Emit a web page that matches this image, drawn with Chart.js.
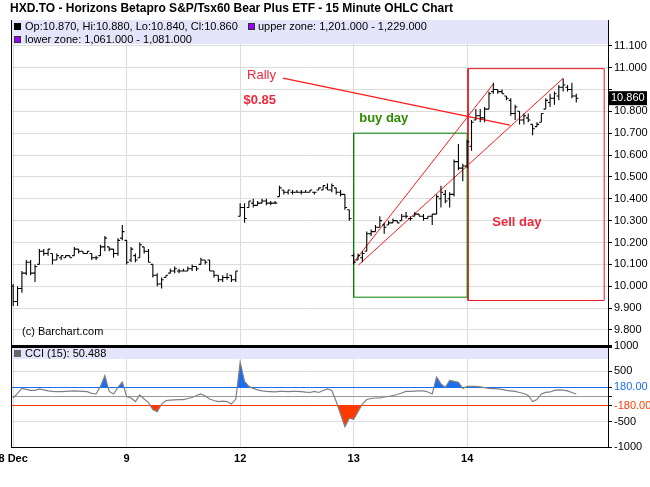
<!DOCTYPE html>
<html>
<head>
<meta charset="utf-8">
<script src="https://cdn.jsdelivr.net/npm/chart.js@4.4.1/dist/chart.umd.min.js"></script>
<style>
html, body { margin: 0; padding: 0; background: #fff; }
</style>
</head>
<body>
<canvas id="ohlc" width="650" height="487"></canvas>
<script>
// trading days on the x axis, 26 fifteen-minute bars each
var dayLabels = ['8 Dec', '9', '12', '13', '14'];
var barsPerDay = 26;

var op = [10.00,9.93,9.99,10.06,10.11,10.06,10.10,10.16,10.15,10.15,10.12,10.13,10.13,10.14,10.14,10.17,10.16,10.15,10.15,10.13,10.14,10.18,10.18,10.17,10.15,10.22,
    10.21,10.12,10.14,10.13,10.18,10.16,10.10,10.05,10.01,10.04,10.06,10.07,10.07,10.07,10.07,10.08,10.09,10.10,10.12,10.12,10.07,10.05,10.03,10.04,10.05,10.03,
    10.32,10.36,10.36,10.38,10.37,10.38,10.39,10.38,10.38,10.41,10.44,10.43,10.43,10.43,10.43,10.43,10.43,10.43,10.44,10.44,10.45,10.44,10.45,10.43,10.42,10.35,
    10.14,10.12,10.13,10.16,10.24,10.25,10.27,10.28,10.28,10.29,10.30,10.30,10.32,10.31,10.32,10.33,10.32,10.31,10.32,10.33,10.40,10.42,10.40,10.42,10.57,10.54,
    10.55,10.64,10.76,10.78,10.77,10.81,10.89,10.90,10.89,10.87,10.85,10.79,10.80,10.76,10.77,10.74,10.73,10.75,10.81,10.84,10.86,10.87,10.91,10.91,10.90,10.87];
var hi = [10.01,10.00,10.07,10.12,10.12,10.10,10.17,10.17,10.17,10.15,10.15,10.14,10.14,10.14,10.18,10.17,10.16,10.16,10.15,10.14,10.19,10.23,10.18,10.17,10.22,10.28,
    10.21,10.18,10.15,10.20,10.18,10.17,10.10,10.06,10.04,10.05,10.08,10.09,10.08,10.08,10.09,10.10,10.09,10.13,10.12,10.12,10.07,10.05,10.05,10.06,10.05,10.07,
    10.38,10.38,10.39,10.40,10.39,10.40,10.40,10.39,10.39,10.46,10.44,10.44,10.44,10.44,10.44,10.44,10.44,10.43,10.45,10.46,10.47,10.47,10.45,10.44,10.42,10.35,
    10.15,10.15,10.16,10.25,10.26,10.28,10.32,10.29,10.30,10.31,10.30,10.33,10.34,10.32,10.34,10.33,10.33,10.32,10.33,10.42,10.46,10.44,10.43,10.58,10.65,10.56,
    10.67,10.76,10.81,10.81,10.82,10.89,10.93,10.90,10.90,10.87,10.86,10.83,10.80,10.79,10.79,10.74,10.75,10.79,10.86,10.88,10.89,10.92,10.95,10.92,10.93,10.88];
var lo = [9.91,9.91,9.97,10.05,10.05,10.02,10.10,10.14,10.14,10.10,10.12,10.12,10.13,10.13,10.14,10.15,10.15,10.15,10.12,10.12,10.14,10.16,10.16,10.13,10.14,10.21,
    10.10,10.11,10.11,10.13,10.15,10.11,10.04,10.00,9.99,10.04,10.06,10.06,10.06,10.07,10.07,10.07,10.07,10.10,10.10,10.07,10.04,10.02,10.02,10.03,10.02,10.02,
    10.32,10.29,10.36,10.36,10.37,10.38,10.37,10.37,10.38,10.41,10.42,10.42,10.42,10.43,10.42,10.43,10.43,10.42,10.44,10.44,10.44,10.43,10.42,10.41,10.35,10.30,
    10.10,10.12,10.11,10.16,10.23,10.25,10.27,10.24,10.28,10.29,10.29,10.30,10.31,10.30,10.32,10.32,10.30,10.31,10.28,10.33,10.36,10.38,10.36,10.41,10.53,10.48,
    10.54,10.62,10.76,10.75,10.75,10.81,10.88,10.88,10.88,10.85,10.78,10.76,10.74,10.74,10.75,10.69,10.73,10.75,10.81,10.82,10.83,10.85,10.89,10.89,10.86,10.84];
var cl = [9.93,9.99,10.06,10.11,10.06,10.09,10.16,10.15,10.17,10.12,10.14,10.14,10.14,10.13,10.17,10.16,10.15,10.16,10.13,10.13,10.18,10.22,10.17,10.15,10.21,10.25,
    10.11,10.17,10.12,10.19,10.16,10.11,10.05,10.01,10.03,10.05,10.07,10.08,10.07,10.07,10.08,10.09,10.08,10.12,10.11,10.07,10.05,10.03,10.04,10.04,10.03,10.07,
    10.36,10.31,10.39,10.37,10.38,10.39,10.38,10.38,10.38,10.45,10.43,10.44,10.43,10.43,10.43,10.43,10.44,10.43,10.45,10.46,10.44,10.46,10.43,10.42,10.36,10.31,
    10.11,10.14,10.15,10.24,10.25,10.27,10.30,10.27,10.29,10.30,10.29,10.32,10.32,10.31,10.33,10.32,10.31,10.32,10.33,10.41,10.43,10.39,10.42,10.57,10.54,10.55,
    10.66,10.75,10.78,10.77,10.81,10.88,10.90,10.89,10.88,10.86,10.79,10.82,10.76,10.78,10.76,10.72,10.74,10.79,10.85,10.86,10.88,10.91,10.92,10.90,10.87,10.86];

var cci = [-30,60,160,140,120,120,150,130,110,100,95,95,100,105,110,105,100,95,60,50,200,413,100,50,180,287,
    0,-30,-100,30,-50,-120,-260,-300,-150,-80,-70,-65,-60,-60,-40,-20,20,50,10,-50,-80,-100,-90,-100,-150,-50,
    680,300,200,160,130,110,100,95,90,100,100,95,100,100,95,85,80,100,80,120,150,120,-100,-350,-600,-430,
    -450,-300,-150,-60,-40,-30,-30,-10,0,20,40,70,100,100,105,110,110,90,50,387,250,180,320,300,280,160,
    200,200,200,190,175,160,155,150,140,120,110,100,80,60,20,-100,-60,50,80,90,120,130,125,110,80,50.488];

var priceTicks = [9.8, 9.9, 10.0, 10.1, 10.2, 10.3, 10.4, 10.5, 10.6, 10.7, 10.8, 10.9, 11.0, 11.1];
var cciTicks = [-1000, -500, -180, 0, 180, 500, 1000];
var cciTickLabels = ['-1000', '-500', '-180.00', '', '180.00', '500', '1000'];
var cciZones = [180, -180];

// hand drawn study marks, in bar index / price units
var buyBoxX = [78, 104], buyBoxY = [9.95, 10.70];
var sellBoxX = [104.2, 135.4], sellBoxY = [9.935, 10.995];
var channelA = [[77.85, 10.105], [110.0, 10.925]];
var channelB = [[79.1, 10.097], [126.0, 10.951]];
var rallyLine = [[61.8, 10.952], [113.8, 10.737]];
var noteText = ['Rally', '$0.85', 'buy day', 'Sell day'];
var noteX = [56.9, 56.5, 84.9, 115.4];
var noteY = [10.966, 10.852, 10.769, 10.293];

var FONT = "'Liberation Sans', Arial, sans-serif";
var BAND = 'rgb(228,228,250)';
var GRID = '#dcdcdc';
var BLUE = '#1a6ef0';
var RED = '#ff3a00';
var tickLen = 0.5;
var last = cl.length - 1;

function ohlcPoints() {
    var pts = [];
    for (var i = 0; i < hi.length; i++) {
        pts.push({x: i, y: lo[i]}, {x: i, y: hi[i]}, {x: i, y: null});
        pts.push({x: i - tickLen, y: op[i]}, {x: i, y: op[i]}, {x: i, y: null});
        pts.push({x: i, y: cl[i]}, {x: i + tickLen, y: cl[i]}, {x: i, y: null});
    }
    return pts;
}

function boxPoints(bx, by) {
    return [{x: bx[0], y: by[0]}, {x: bx[1], y: by[0]}, {x: bx[1], y: by[1]}, {x: bx[0], y: by[1]}, {x: bx[0], y: by[0]}];
}

function segPoints(s) {
    return [{x: s[0][0], y: s[0][1]}, {x: s[1][0], y: s[1][1]}];
}

function markLine(pts, color, width) {
    return {data: pts, yAxisID: 'y', borderColor: color, borderWidth: width, pointRadius: 0, fill: false, tension: 0};
}

var cciPts = cci.map(function(v, i) { return {x: i, y: v}; });

var decor = {
    id: 'decor',
    beforeDatasetsDraw: function(chart) {
        var c = chart.ctx, a = chart.chartArea, y = chart.scales.y, yc = chart.scales.yc;
        c.save();
        c.fillStyle = BAND;
        c.fillRect(a.left, y.top, a.right - a.left, 24);
        c.fillRect(a.left, yc.top + 2, a.right - a.left, 11);
        c.restore();
    },
    afterDraw: function(chart) {
        var c = chart.ctx, a = chart.chartArea, x = chart.scales.x, y = chart.scales.y, yc = chart.scales.yc;
        c.save();
        c.strokeStyle = '#000';
        c.lineWidth = 1;
        c.beginPath();
        c.moveTo(a.left + 0.5, a.top);
        c.lineTo(a.left + 0.5, a.bottom);
        c.stroke();

        c.textBaseline = 'middle';
        c.fillStyle = '#000';
        c.font = 'bold 12px ' + FONT;
        c.fillText('HXD.TO - Horizons Betapro S&P/Tsx60 Bear Plus ETF - 15 Minute OHLC Chart', 10, 9);

        c.font = '11px ' + FONT;
        c.fillStyle = '#000';
        c.fillRect(14, 23, 7, 7);
        c.fillText('Op:' + op[last].toFixed(3) + ', Hi:' + hi[last].toFixed(3) + ', Lo:' + lo[last].toFixed(3) + ', Cl:' + cl[last].toFixed(3), 25, 27);
        c.fillStyle = '#9a00ff';
        c.fillRect(248, 23, 7, 7);
        c.fillRect(14, 36, 7, 7);
        c.strokeStyle = '#333';
        c.strokeRect(248.5, 23.5, 6, 6);
        c.strokeRect(14.5, 36.5, 6, 6);
        c.fillStyle = '#000';
        c.fillText('upper zone: 1,201.000 - 1,229.000', 258, 27);
        c.fillText('lower zone: 1,061.000 - 1,081.000', 25, 40);

        c.fillStyle = '#666';
        c.fillRect(14, yc.top + 4, 7, 7);
        c.fillStyle = '#000';
        c.fillText('CCI (15): ' + cci[last].toFixed(3), 25, yc.top + 8);

        c.fillText('(c) Barchart.com', a.left + 11, y.bottom - 14);

        var colors = ['#f0283c', '#f0283c', '#2f8a00', '#f0283c'];
        var fonts = ['13px ', 'bold 13px ', 'bold 13px ', 'bold 13px '];
        c.textAlign = 'center';
        for (var k = 0; k < noteText.length; k++) {
            c.font = fonts[k] + FONT;
            c.fillStyle = colors[k];
            c.fillText(noteText[k], x.getPixelForValue(noteX[k]), y.getPixelForValue(noteY[k]));
        }

        var py = y.getPixelForValue(cl[last]);
        c.fillStyle = '#000';
        c.fillRect(a.right + 1, py - 7, 38, 14);
        c.fillStyle = '#fff';
        c.font = '11px ' + FONT;
        c.textAlign = 'left';
        c.fillText(cl[last].toFixed(3), a.right + 3, py);
        c.restore();
    }
};

var ctx = document.getElementById('ohlc').getContext('2d');
var chart = new Chart(ctx, {
    type: 'line',
    data: {
        datasets: [
            markLine(ohlcPoints(), '#000', 1.1),
            markLine(boxPoints(buyBoxX, buyBoxY), '#008000', 1),
            markLine(boxPoints(sellBoxX, sellBoxY), '#e8141e', 1),
            markLine(segPoints(channelA), '#ff1a1a', 1),
            markLine(segPoints(channelB), '#ff1a1a', 1),
            markLine(segPoints(rallyLine), '#ff1a1a', 1.4),
            {
                data: cciPts, yAxisID: 'yc', borderColor: '#808080', borderWidth: 1.2, pointRadius: 0, tension: 0,
                fill: {target: {value: cciZones[0]}, above: BLUE, below: 'rgba(0,0,0,0)'}
            },
            {
                data: cciPts, yAxisID: 'yc', borderColor: 'rgba(0,0,0,0)', borderWidth: 0, pointRadius: 0, tension: 0,
                fill: {target: {value: cciZones[1]}, above: 'rgba(0,0,0,0)', below: RED}
            }
        ]
    },
    plugins: [decor],
    options: {
        responsive: false,
        animation: false,
        events: [],
        layout: {padding: {left: 11, top: 20, right: 0, bottom: 0}},
        plugins: {legend: {display: false}, tooltip: {enabled: false}, title: {display: false}},
        scales: {
            x: {
                type: 'linear',
                min: -0.5,
                max: 136.27,
                afterBuildTicks: function(axis) {
                    axis.ticks = dayLabels.map(function(d, k) { return {value: k * barsPerDay}; });
                },
                afterFit: function(axis) {
                    axis.paddingLeft = 0;
                    axis.paddingRight = 0;
                    axis.height = 40;
                },
                ticks: {
                    autoSkip: false,
                    maxRotation: 0,
                    padding: 5,
                    color: '#000',
                    font: {family: FONT, size: 11, weight: 'bold'},
                    callback: function(v) { return dayLabels[Math.round(v / barsPerDay)]; }
                },
                grid: {color: GRID, drawTicks: false},
                border: {color: '#000'}
            },
            y: {
                position: 'right',
                stack: 'panes',
                stackWeight: 326,
                min: 9.7268,
                max: 11.2175,
                afterBuildTicks: function(axis) {
                    axis.ticks = priceTicks.map(function(v) { return {value: v}; });
                },
                afterFit: function(axis) { axis.width = 42; },
                ticks: {
                    autoSkip: false,
                    padding: 2,
                    color: '#000',
                    font: {family: FONT, size: 11},
                    callback: function(v) {
                        if (Math.abs(v - cl[last]) < 0.05) return '';
                        return v.toFixed(3);
                    }
                },
                grid: {color: GRID, tickColor: '#000', tickLength: 4},
                border: {color: '#000'}
            },
            yc: {
                position: 'right',
                stack: 'panes',
                stackWeight: 101,
                min: -1000,
                max: 1000,
                afterBuildTicks: function(axis) {
                    axis.ticks = cciTicks.map(function(v) { return {value: v}; });
                },
                afterFit: function(axis) { axis.width = 42; },
                ticks: {
                    autoSkip: false,
                    padding: 2,
                    font: {family: FONT, size: 11},
                    color: function(c) {
                        if (c.tick.value === cciZones[0]) return BLUE;
                        if (c.tick.value === cciZones[1]) return RED;
                        return '#000';
                    },
                    callback: function(v) { return cciTickLabels[cciTicks.indexOf(v)]; }
                },
                grid: {
                    tickColor: '#000',
                    tickLength: 4,
                    color: function(c) {
                        var v = c.tick.value;
                        if (v === 1000 || v === -1000) return '#000';
                        if (v === cciZones[0]) return BLUE;
                        if (v === cciZones[1]) return RED;
                        if (v === 0) return '#9a9a9a';
                        return GRID;
                    },
                    lineWidth: function(c) { return c.tick.value === 1000 ? 3 : 1; }
                },
                border: {color: '#000'}
            }
        }
    }
});
</script>
</body>
</html>
